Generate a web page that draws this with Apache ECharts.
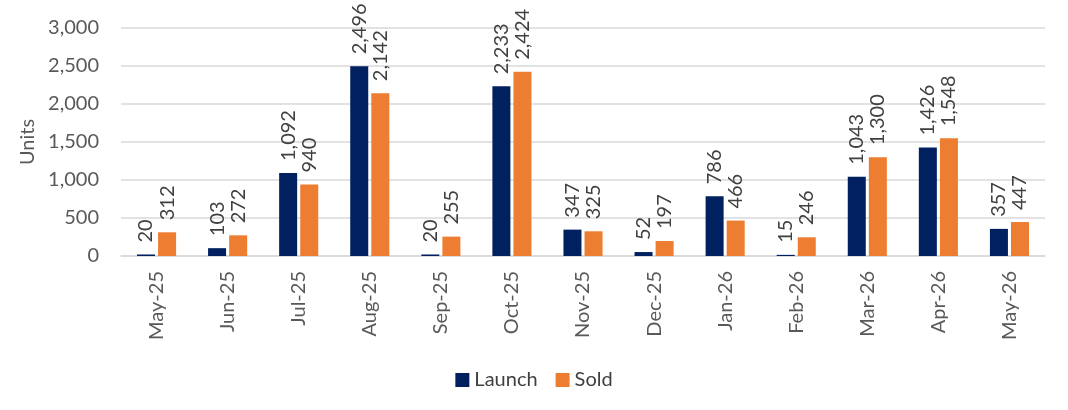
<!DOCTYPE html>
<html><head><meta charset="utf-8">
<script src="https://cdn.jsdelivr.net/npm/echarts@6/dist/echarts.min.js"></script>
<style>html,body{margin:0;padding:0;background:#fff}#c{width:1068px;height:410px}</style>
</head><body><div id="c"></div>
<script>
const categories = ["May-25","Jun-25","Jul-25","Aug-25","Sep-25","Oct-25","Nov-25","Dec-25","Jan-26","Feb-26","Mar-26","Apr-26","May-26"];
const launch = [20,103,1092,2496,20,2233,347,52,786,15,1043,1426,357];
const sold = [312,272,940,2142,255,2424,325,197,466,246,1300,1548,447];
const yTicks = [0,500,1000,1500,2000,2500,3000];
const fmt = v => v.toLocaleString('en-US');
const font = 'Lato, "Open Sans", sans-serif';
const lbl = {show:true, position:'top', rotate:90, align:'left', verticalAlign:'middle', distance:12,
  color:'#404040', fontSize:20, fontFamily:font, formatter:p=>fmt(p.value)};
const chart = echarts.init(document.getElementById('c'));
chart.setOption({
  animation:false,
  textStyle:{fontFamily:font},
  grid:{left:121, right:23, top:28, bottom:154},
  legend:{bottom:15, left:'center', itemWidth:14, itemHeight:14, itemGap:18, icon:'rect',
    textStyle:{color:'#404040', fontSize:20, fontFamily:font}},
  xAxis:{type:'category', data:categories,
    axisLine:{lineStyle:{color:'#d9d9d9', width:1.5}}, axisTick:{show:false},
    axisLabel:{rotate:90, color:'#595959', fontSize:20, fontFamily:font, margin:15}},
  yAxis:{type:'value', min:yTicks[0], max:yTicks[yTicks.length-1], interval:500,
    name:'Units', nameLocation:'middle', nameGap:83, nameRotate:90,
    nameTextStyle:{color:'#595959', fontSize:20, fontFamily:font},
    axisLine:{show:false}, axisTick:{show:false},
    axisLabel:{color:'#595959', fontSize:20, fontFamily:font, margin:22, formatter:v=>fmt(v)},
    splitLine:{lineStyle:{color:'#d9d9d9', width:1.5}}},
  series:[
    {name:'Launch', type:'bar', data:launch, itemStyle:{color:'#002060'}, barGap:'17%', barCategoryGap:'45%', label:lbl},
    {name:'Sold', type:'bar', data:sold, itemStyle:{color:'#ED7D31'}, label:lbl}
  ]
});
</script></body></html>
